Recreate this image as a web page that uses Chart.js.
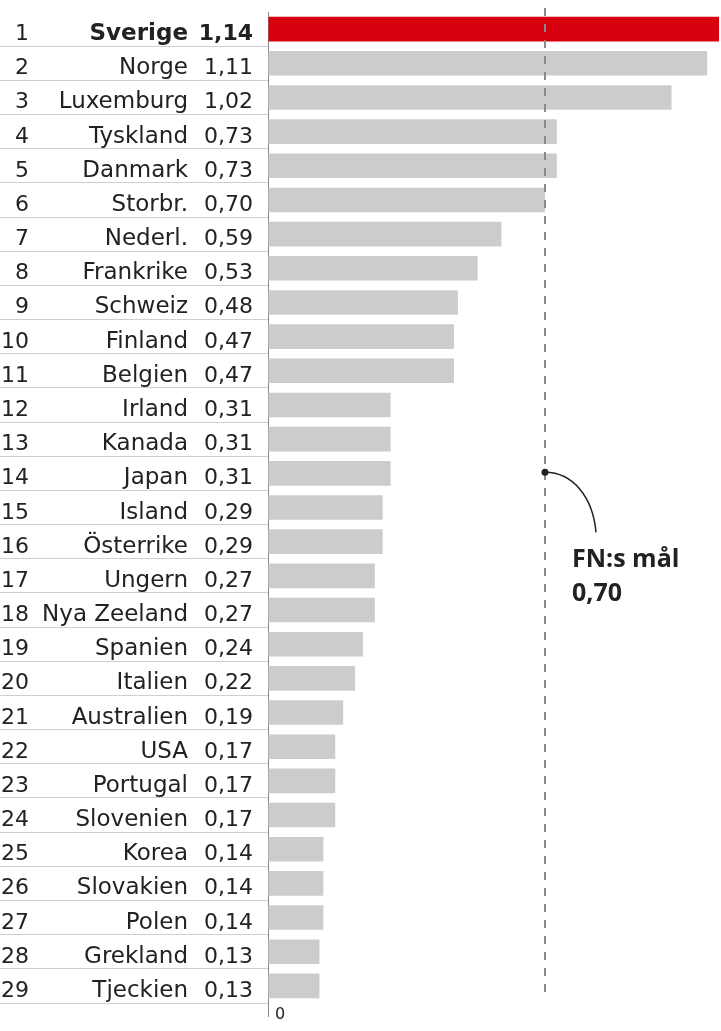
<!DOCTYPE html>
<html>
<head>
<meta charset="utf-8">
<title>FN:s mål</title>
<script src="https://cdn.jsdelivr.net/npm/chart.js@4.4.1/dist/chart.umd.min.js"></script>
<style>
  html, body { margin: 0; padding: 0; background: #fff; }
  canvas { display: block; }
</style>
</head>
<body>
<canvas id="aidChart" width="721" height="1031"></canvas>
<script>
// data
const ranks = ['1', '2', '3', '4', '5', '6', '7', '8', '9', '10', '11', '12', '13', '14', '15',
  '16', '17', '18', '19', '20', '21', '22', '23', '24', '25', '26', '27', '28', '29'];
const countries = ['Sverige', 'Norge', 'Luxemburg', 'Tyskland', 'Danmark', 'Storbr.', 'Nederl.',
  'Frankrike', 'Schweiz', 'Finland', 'Belgien', 'Irland', 'Kanada', 'Japan', 'Island', 'Österrike',
  'Ungern', 'Nya Zeeland', 'Spanien', 'Italien', 'Australien', 'USA', 'Portugal', 'Slovenien',
  'Korea', 'Slovakien', 'Polen', 'Grekland', 'Tjeckien'];
const values = [1.14, 1.11, 1.02, 0.73, 0.73, 0.70, 0.59, 0.53, 0.48, 0.47, 0.47, 0.31, 0.31, 0.31,
  0.29, 0.29, 0.27, 0.27, 0.24, 0.22, 0.19, 0.17, 0.17, 0.17, 0.14, 0.14, 0.14, 0.13, 0.13];
const goalValue = 0.70;
const goalLabel = ['FN:s mål', '0,70'];
const highlight = 'Sverige';

const FONT = '"DejaVu Sans", sans-serif';
const TEXT = '#222';

const fmt = v => v.toFixed(2).replace('.', ',');

// rank / country / value columns + goal line and note
const rowLabels = {
  id: 'rowLabels',
  afterDraw(chart) {
    const { ctx, scales: { x, y } } = chart;
    ctx.save();
    ctx.fillStyle = TEXT;
    ctx.textBaseline = 'alphabetic';
    ctx.textAlign = 'right';
    countries.forEach((name, i) => {
      const cy = y.getPixelForValue(i) + 11;
      const bold = name === highlight ? 'bold ' : '';
      ctx.font = '22px ' + FONT;
      ctx.fillText(ranks[i], 29, cy);
      ctx.font = bold + '23px ' + FONT;
      ctx.fillText(name, 188, cy);
      ctx.font = bold + '22px ' + FONT;
      ctx.fillText(fmt(values[i]), 253, cy);
    });

    // goal line
    const gx = Math.round(x.getPixelForValue(goalValue));
    ctx.strokeStyle = '#8a8a8a';
    ctx.lineWidth = 2;
    ctx.setLineDash([8, 8]);
    ctx.beginPath();
    ctx.moveTo(gx, 8);
    ctx.lineTo(gx, 996);
    ctx.stroke();

    // note pointer
    const dy = y.getPixelForValue(13) - 1;
    ctx.setLineDash([]);
    ctx.strokeStyle = '#222';
    ctx.lineWidth = 1.5;
    ctx.beginPath();
    ctx.moveTo(gx, dy);
    ctx.bezierCurveTo(gx + 28, dy, gx + 48, dy + 25, gx + 51, dy + 60);
    ctx.stroke();
    ctx.fillStyle = '#222';
    ctx.beginPath();
    ctx.arc(gx, dy, 3.5, 0, Math.PI * 2);
    ctx.fill();

    ctx.textAlign = 'left';
    ctx.font = 'bold 25px "Open Sans", sans-serif';
    ctx.fillText(goalLabel[0], gx + 27, dy + 95);
    ctx.fillText(goalLabel[1], gx + 27, dy + 129);
    ctx.restore();
  }
};

new Chart(document.getElementById('aidChart'), {
  type: 'bar',
  data: {
    labels: countries,
    datasets: [{
      data: values,
      backgroundColor: countries.map(c => c === highlight ? '#d7000f' : '#cccccc'),
      borderWidth: 0,
      categoryPercentage: 1,
      barPercentage: 0.72
    }]
  },
  options: {
    indexAxis: 'y',
    responsive: false,
    animation: false,
    devicePixelRatio: 1,
    layout: { padding: { top: 12, right: 0, bottom: 0, left: 0 } },
    plugins: { legend: { display: false }, tooltip: { enabled: false } },
    scales: {
      x: {
        type: 'linear',
        min: 0,
        max: 1.145,
        border: { display: false },
        grid: { drawOnChartArea: false, tickLength: 14, color: '#888', lineWidth: 1 },
        ticks: {
          align: 'start',
          labelOffset: 7,
          padding: -12,
          color: TEXT,
          font: { family: FONT, size: 16 }
        },
        afterBuildTicks: s => { s.ticks = [{ value: 0 }]; },
        afterFit: s => { s.height = 28; }
      },
      y: {
        type: 'category',
        offset: true,
        border: { display: true, color: '#888', width: 1 },
        grid: {
          offset: true,
          drawOnChartArea: false,
          tickLength: 268,
          lineWidth: 1,
          color: c => c.index === 0 ? 'rgba(0,0,0,0)' : '#cfcfcf'
        },
        ticks: { display: false },
        afterFit: s => { s.width = 268; }
      }
    }
  },
  plugins: [rowLabels]
});
</script>
</body>
</html>
